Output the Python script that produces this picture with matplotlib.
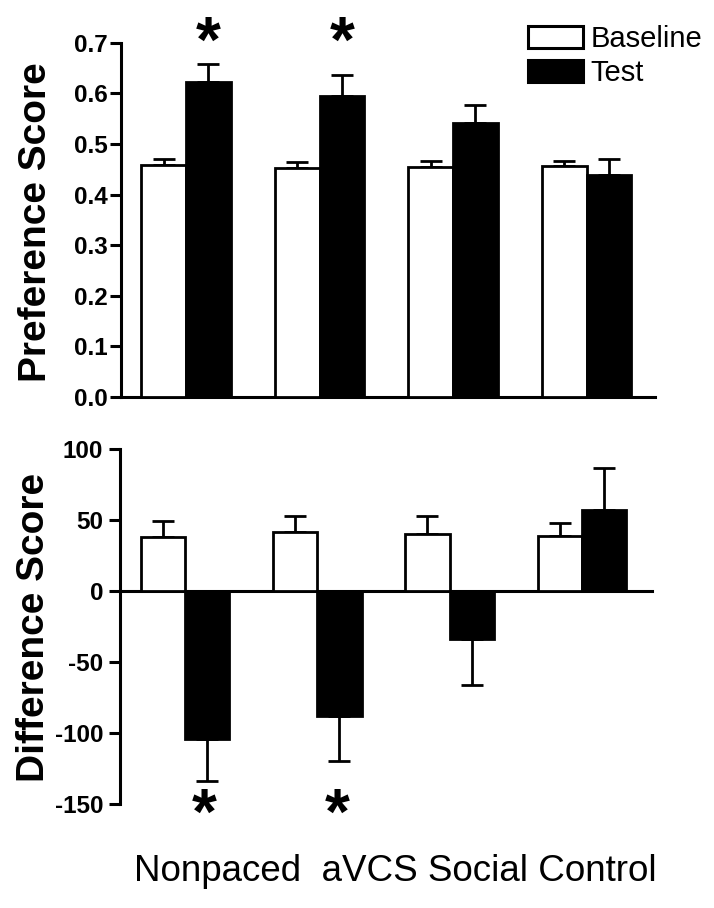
import matplotlib
matplotlib.use("Agg")
import matplotlib.pyplot as plt
import numpy as np
from matplotlib.patches import Patch

plt.rcParams['font.family'] = ['Liberation Sans', 'DejaVu Sans']

groups = ["Nonpaced", "aVCS", "Social", "Control"]
xlabel_text = "Nonpaced  aVCS Social Control"

pref_baseline = [0.459, 0.453, 0.455, 0.456]
pref_baseline_err = [0.012, 0.011, 0.011, 0.010]
pref_test = [0.623, 0.595, 0.541, 0.438]
pref_test_err = [0.034, 0.041, 0.036, 0.032]

diff_baseline = [38.2, 42.1, 40.7, 38.9]
diff_baseline_err = [11.0, 10.6, 12.5, 9.0]
diff_test = [-103.9, -87.5, -33.5, 57.2]
diff_test_err = [29.6, 32.0, 32.6, 29.6]

pref_yticks = [0.0, 0.1, 0.2, 0.3, 0.4, 0.5, 0.6, 0.7]
diff_yticks = [-150, -100, -50, 0, 50, 100]

pref_sig = [0, 1]
diff_sig = [0, 1]

W, H = 714, 908
fig = plt.figure(figsize=(W/100, H/100), dpi=100)

def frac(l, t, r, b):
    return [l/W, 1 - b/H, (r-l)/W, (b-t)/H]

ax1 = fig.add_axes(frac(121, 42.7, 655, 397))
ax2 = fig.add_axes(frac(120, 449.3, 652, 804.3))

x = np.arange(len(groups))
w = 0.335
lw = 2.0
cap = 8
tick_fs = 17.5

def one_sided(vals, errs):
    lo = [e if v < 0 else 0 for v, e in zip(vals, errs)]
    hi = [e if v >= 0 else 0 for v, e in zip(vals, errs)]
    return [lo, hi]

for ax, b, be, t, te in [(ax1, pref_baseline, pref_baseline_err, pref_test, pref_test_err),
                         (ax2, diff_baseline, diff_baseline_err, diff_test, diff_test_err)]:
    ax.bar(x - w/2, b, w, color='white', edgecolor='black', linewidth=lw, zorder=3)
    ax.bar(x + w/2, t, w, color='black', edgecolor='black', linewidth=lw, zorder=3)
    ax.errorbar(x - w/2, b, yerr=one_sided(b, be), fmt='none', ecolor='black',
                elinewidth=lw, capsize=cap, capthick=lw, zorder=2)
    ax.errorbar(x + w/2, t, yerr=one_sided(t, te), fmt='none', ecolor='black',
                elinewidth=lw, capsize=cap, capthick=lw, zorder=2)
    for s in ['top', 'right']:
        ax.spines[s].set_visible(False)
    ax.spines['left'].set_linewidth(2.2)
    ax.spines['bottom'].set_linewidth(2.2)
    ax.set_xticks([])

ax1.tick_params(axis='y', length=8, width=2.2, pad=1.5)
ax2.tick_params(axis='y', length=8, width=2.2, pad=4)

ax1.set_xlim(-0.487, 3.513)
ax1.set_ylim(0, 0.7)
ax1.set_yticks(pref_yticks)
ax1.set_yticklabels([f"{v:.1f}" for v in pref_yticks], fontweight='bold', fontsize=tick_fs)

ax2.set_xlim(-0.491, 3.53)
ax2.set_ylim(-150, 100)
ax2.set_yticks(diff_yticks)
ax2.set_yticklabels([str(v) for v in diff_yticks], fontweight='bold', fontsize=tick_fs)
ax2.spines['bottom'].set_position(('data', 0))

for i in pref_sig:
    ax1.text(x[i] + w/2, 0.695, "*", ha='center', va='center', fontsize=46,
             fontweight='bold', clip_on=False)
for i in diff_sig:
    ax2.text(x[i] + w/2 - 0.02, -159, "*", ha='center', va='center', fontsize=46,
             fontweight='bold', clip_on=False)

fig.text(36/W, 1 - 222/H, "Preference Score", rotation=90, ha='center', va='center',
         fontsize=28, fontweight='bold')
fig.text(34/W, 1 - 627/H, "Difference Score", rotation=90, ha='center', va='center',
         fontsize=28, fontweight='bold')
fig.text(395/W, 1 - 881/H, xlabel_text, ha='center', va='baseline', fontsize=26.5)

handles = [Patch(facecolor='white', edgecolor='black', linewidth=2.2),
           Patch(facecolor='black', edgecolor='black', linewidth=2.2)]
fig.legend(handles, ["Baseline", "Test"], loc='upper left',
           bbox_to_anchor=(528/W, 1 - 25/H), frameon=False, fontsize=21,
           handlelength=1.9, handleheight=0.8, handletextpad=0.25, labelspacing=0.2,
           borderpad=0, borderaxespad=0)

fig.savefig("out.png", dpi=100)
